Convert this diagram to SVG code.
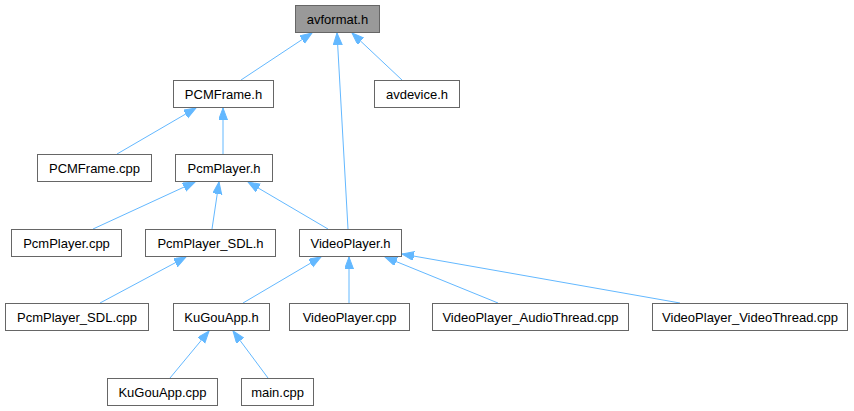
<svg xmlns="http://www.w3.org/2000/svg" width="854" height="411" viewBox="0 0 854 411">
<style>
.n rect{fill:#fff;stroke:#666;stroke-width:1}
.n text{font-family:"Liberation Sans",Arial,sans-serif;font-size:13px;text-anchor:middle;fill:#000}
#avformat rect{fill:#999}
.e line{stroke:#63b8ff;stroke-width:1;marker-end:url(#ah)}
</style>
<defs>
<marker id="ah" markerUnits="userSpaceOnUse" markerWidth="13" markerHeight="10" refX="12" refY="4.5" orient="auto">
<path d="M0,0 L12,4.5 L0,9 z" fill="#63b8ff" stroke="#63b8ff"/>
</marker>
</defs>
<g class="e">
<line x1="241" y1="80" x2="312" y2="33"/>
<line x1="348" y1="229" x2="337" y2="33"/>
<line x1="402" y1="80" x2="352" y2="33"/>
<line x1="117" y1="154" x2="196" y2="108"/>
<line x1="223" y1="154" x2="223" y2="108"/>
<line x1="93" y1="229" x2="195" y2="182"/>
<line x1="212" y1="229" x2="219" y2="182"/>
<line x1="328" y1="229" x2="248" y2="182"/>
<line x1="100" y1="303" x2="186" y2="257"/>
<line x1="243" y1="303" x2="321" y2="257"/>
<line x1="349" y1="303" x2="349" y2="257"/>
<line x1="498" y1="303" x2="385" y2="257"/>
<line x1="680" y1="303" x2="402" y2="254"/>
<line x1="170" y1="378" x2="209" y2="331"/>
<line x1="268" y1="378" x2="233" y2="331"/>
</g>
<g class="n" id="avformat"><rect x="295.5" y="5.5" width="84" height="27"/><text x="337.5" y="24">avformat.h</text></g>
<g class="n" id="avdevice"><rect x="374.5" y="80.5" width="85" height="27"/><text x="417" y="99">avdevice.h</text></g>
<g class="n" id="PCMFrame_h"><rect x="173.5" y="80.5" width="100" height="27"/><text x="223.5" y="99">PCMFrame.h</text></g>
<g class="n" id="PCMFrame_cpp"><rect x="37.5" y="154.5" width="114" height="27"/><text x="94.5" y="173">PCMFrame.cpp</text></g>
<g class="n" id="PcmPlayer_h"><rect x="175.5" y="154.5" width="97" height="27"/><text x="224" y="173">PcmPlayer.h</text></g>
<g class="n" id="PcmPlayer_cpp"><rect x="11.5" y="229.5" width="110" height="27"/><text x="66.5" y="248">PcmPlayer.cpp</text></g>
<g class="n" id="PcmPlayer_SDL_h"><rect x="145.5" y="229.5" width="130" height="27"/><text x="210.5" y="248">PcmPlayer_SDL.h</text></g>
<g class="n" id="VideoPlayer_h"><rect x="299.5" y="229.5" width="102" height="27"/><text x="350.5" y="248">VideoPlayer.h</text></g>
<g class="n" id="PcmPlayer_SDL_cpp"><rect x="5.5" y="303.5" width="143" height="27"/><text x="77" y="322">PcmPlayer_SDL.cpp</text></g>
<g class="n" id="KuGouApp_h"><rect x="173.5" y="303.5" width="96" height="27"/><text x="221.5" y="322">KuGouApp.h</text></g>
<g class="n" id="VideoPlayer_cpp"><rect x="289.5" y="303.5" width="120" height="27"/><text x="349.5" y="322">VideoPlayer.cpp</text></g>
<g class="n" id="AudioThread"><rect x="432.5" y="303.5" width="196" height="27"/><text x="530.5" y="322">VideoPlayer_AudioThread.cpp</text></g>
<g class="n" id="VideoThread"><rect x="652.5" y="303.5" width="195" height="27"/><text x="750" y="322">VideoPlayer_VideoThread.cpp</text></g>
<g class="n" id="KuGouApp_cpp"><rect x="107.5" y="378.5" width="110" height="27"/><text x="162.5" y="397">KuGouApp.cpp</text></g>
<g class="n" id="main_cpp"><rect x="241.5" y="378.5" width="72" height="27"/><text x="277.5" y="397">main.cpp</text></g>
</svg>
